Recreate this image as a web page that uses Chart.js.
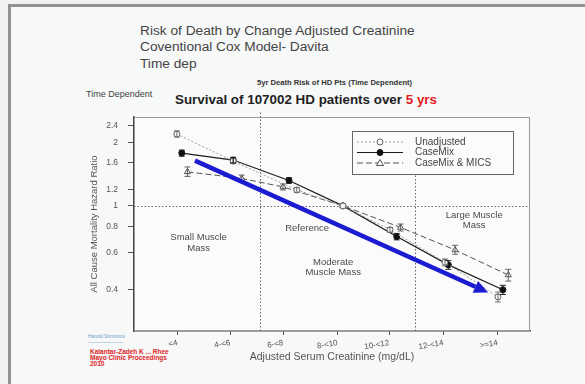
<!DOCTYPE html>
<html>
<head>
<meta charset="utf-8">
<script src="https://cdn.jsdelivr.net/npm/chart.js@4.4.1/dist/chart.umd.min.js"></script>
<style>
  html, body { margin: 0; padding: 0; width: 585px; height: 384px; overflow: hidden; background: #f1f2f2; font-family: "Liberation Sans", Arial, sans-serif; }
  .slide { position: absolute; left: 8px; top: 4px; width: 600px; height: 400px; border-top: 3px solid #909296; border-left: 3px solid #909296; background: #f7f8f8; }
  #c { position: absolute; left: 0; top: 0; }
  .txt { position: absolute; white-space: nowrap; }
  .head { left: 140px; top: 23px; font-size: 13.7px; line-height: 16.3px; color: #444; }
  .sub { left: 257px; top: 78px; font-size: 7.6px; line-height: 10px; font-weight: bold; color: #333; }
  .td { left: 86px; top: 89px; font-size: 9px; line-height: 11px; color: #444; }
  .surv { left: 175px; top: 91px; font-size: 13.4px; line-height: 17px; font-weight: bold; color: #222; }
  .surv span { color: #e3201f; }
  .logo { left: 88px; top: 333px; font-size: 5px; line-height: 6px; color: #6f9cc8; }
  .ref { left: 90px; top: 349px; font-size: 6.5px; line-height: 6px; font-weight: bold; color: #e02424; }
</style>
</head>
<body>
<div class="slide"></div>
<div class="txt head">Risk of Death by Change Adjusted Creatinine<br>Coventional Cox Model- Davita<br>Time dep</div>
<div class="txt sub">5yr Death Risk of HD Pts (Time Dependent)</div>
<div class="txt td">Time Dependent</div>
<div class="txt surv">Survival of 107002 HD patients over <span>5 yrs</span></div>
<div class="txt logo">Harold Simmons<br>———————</div>
<div class="txt ref">Kalantar-Zadeh K ... Rhee<br>Mayo Clinic Proceedings<br>2010</div>
<canvas id="c" width="585" height="384"></canvas>
<script>
// Serum creatinine groups (mg/dL) and their plotted mid positions
const categories = ['<4', '4-<6', '6-<8', '8-<10', '10-<12', '12-<14', '>=14'];
const categoryPos = [2.8, 4.85, 6.9, 9.0, 11.0, 13.1, 15.2];

// Hazard ratio tick values on the log axis
const yTicks = [0.4, 0.6, 0.8, 1, 1.2, 1.6, 2, 2.4];

// Unadjusted model
const unadjX  = [2.78, 4.96, 7.42, 9.21, 11.03, 13.16, 15.21];
const unadjHR = [2.19, 1.63, 1.19, 1.0, 0.77, 0.54, 0.37];
const unadjLo = [2.12, 1.59, 1.16, 1.0, 0.75, 0.52, 0.35];
const unadjHi = [2.27, 1.68, 1.22, 1.0, 0.79, 0.56, 0.39];

// Case-mix adjusted model
const caseX  = [2.97, 4.96, 7.12, 9.21, 11.29, 13.29, 15.40];
const caseHR = [1.78, 1.65, 1.32, 1.0, 0.715, 0.525, 0.40];
const caseLo = [1.72, 1.60, 1.28, 1.0, 0.69, 0.50, 0.38];
const caseHi = [1.84, 1.70, 1.36, 1.0, 0.74, 0.55, 0.42];

// Case-mix + MICS adjusted model
const micsX  = [3.19, 5.29, 6.89, 9.21, 11.44, 13.55, 15.61];
const micsHR = [1.45, 1.35, 1.23, 1.0, 0.79, 0.618, 0.47];
const micsLo = [1.38, 1.30, 1.19, 1.0, 0.76, 0.59, 0.44];
const micsHi = [1.53, 1.40, 1.27, 1.0, 0.82, 0.65, 0.50];

// Muscle mass regions: [text lines, x, hazard ratio]
const regionLabels = [
  [['Small Muscle', 'Mass'], 3.62, 0.707],
  [['Reference'], 7.82, 0.786],
  [['Moderate', 'Muscle Mass'], 8.83, 0.542],
  [['Large Muscle', 'Mass'], 14.29, 0.906]
];

// Trend arrow, start and end in data units
const trendFrom = [3.48, 1.64];
const trendTo   = [14.83, 0.388];

// Category boundaries marked with dotted lines
const boundaries = [6, 12];

const FONT = '"Liberation Sans", Arial, sans-serif';

function pts(xs, ys) { return xs.map((x, i) => ({ x: x, y: ys[i] })); }

const series = [
  { label: 'Unadjusted', data: pts(unadjX, unadjHR), lo: unadjLo, hi: unadjHi,
    borderColor: '#9c9c9c', borderWidth: 1, borderDash: [2, 2],
    pointStyle: 'circle', pointRadius: 3, pointBackgroundColor: '#f8f8f8', pointBorderColor: '#666', pointBorderWidth: 1 },
  { label: 'CaseMix', data: pts(caseX, caseHR), lo: caseLo, hi: caseHi,
    borderColor: '#1e1e1e', borderWidth: 1.2, borderDash: [],
    pointStyle: 'circle', pointRadius: 3, pointBackgroundColor: '#111', pointBorderColor: '#111', pointBorderWidth: 1 },
  { label: 'CaseMix & MICS', data: pts(micsX, micsHR), lo: micsLo, hi: micsHi,
    borderColor: '#555', borderWidth: 1, borderDash: [6, 3],
    pointStyle: 'triangle', pointRadius: 3.5, pointBackgroundColor: '#f8f8f8', pointBorderColor: '#555', pointBorderWidth: 1 }
];

const decorations = {
  id: 'decorations',
  beforeDatasetsDraw(chart) {
    const { ctx, chartArea: a, scales: { x, y } } = chart;
    ctx.save();
    ctx.fillStyle = '#fbfbfb';
    ctx.fillRect(a.left, a.top, a.right - a.left, a.bottom - a.top);
    // plot frame
    ctx.strokeStyle = '#9a9a9a';
    ctx.lineWidth = 1;
    ctx.strokeRect(a.left + 0.5, a.top + 0.5, a.right - a.left - 1, a.bottom - a.top - 1);
    // dotted guides
    ctx.strokeStyle = '#666';
    ctx.setLineDash([1.5, 2]);
    ctx.beginPath();
    const y1 = Math.round(y.getPixelForValue(1)) + 0.5;
    ctx.moveTo(a.left, y1); ctx.lineTo(a.right, y1);
    const bx0 = Math.round(x.getPixelForValue(boundaries[0])) + 0.5;
    ctx.moveTo(bx0, a.bottom); ctx.lineTo(bx0, a.top - 5);
    const bx1 = Math.round(x.getPixelForValue(boundaries[1])) + 0.5;
    ctx.moveTo(bx1, a.bottom); ctx.lineTo(bx1, a.top + 57);
    ctx.stroke();
    ctx.setLineDash([]);
    // region labels
    ctx.fillStyle = '#4a4a4a';
    ctx.font = '9.5px ' + FONT;
    ctx.textAlign = 'center';
    ctx.textBaseline = 'middle';
    regionLabels.forEach(([lines, vx, vy]) => {
      const px = x.getPixelForValue(vx), py = y.getPixelForValue(vy);
      lines.forEach((t, i) => ctx.fillText(t, px, py + i * 10.5));
    });
    ctx.restore();
  },
  afterDatasetsDraw(chart) {
    const { ctx, chartArea: a, scales: { x, y } } = chart;
    ctx.save();
    // error bars
    chart.data.datasets.forEach(ds => {
      ctx.strokeStyle = ds.pointBorderColor;
      ctx.lineWidth = 0.9;
      ds.data.forEach((p, i) => {
        if (ds.lo[i] === ds.hi[i]) return;
        const px = x.getPixelForValue(p.x);
        const pl = y.getPixelForValue(ds.lo[i]), ph = y.getPixelForValue(ds.hi[i]);
        ctx.beginPath();
        ctx.moveTo(px, pl); ctx.lineTo(px, ph);
        ctx.moveTo(px - 3, pl); ctx.lineTo(px + 3, pl);
        ctx.moveTo(px - 3, ph); ctx.lineTo(px + 3, ph);
        ctx.stroke();
      });
    });
    // trend arrow
    const x0 = x.getPixelForValue(trendFrom[0]), y0 = y.getPixelForValue(trendFrom[1]);
    const x1 = x.getPixelForValue(trendTo[0]), y1 = y.getPixelForValue(trendTo[1]);
    const ang = Math.atan2(y1 - y0, x1 - x0);
    const head = 14, half = 6.5;
    const hx = x1 - head * Math.cos(ang), hy = y1 - head * Math.sin(ang);
    ctx.strokeStyle = '#1b1bd2';
    ctx.fillStyle = '#1b1bd2';
    ctx.lineWidth = 4.5;
    ctx.beginPath(); ctx.moveTo(x0, y0); ctx.lineTo(hx, hy); ctx.stroke();
    ctx.beginPath();
    ctx.moveTo(x1, y1);
    ctx.lineTo(hx + half * Math.sin(ang), hy - half * Math.cos(ang));
    ctx.lineTo(hx - half * Math.sin(ang), hy + half * Math.cos(ang));
    ctx.closePath(); ctx.fill();
    // legend box
    const lx = a.right - 178, ly = a.top + 14, lw = 161, lh = 43;
    ctx.fillStyle = '#fbfbfb';
    ctx.fillRect(lx, ly, lw, lh);
    ctx.strokeStyle = '#666';
    ctx.lineWidth = 1;
    ctx.strokeRect(lx + 0.5, ly + 0.5, lw, lh);
    ctx.font = '10px ' + FONT;
    ctx.textAlign = 'left';
    ctx.textBaseline = 'middle';
    chart.data.datasets.forEach((ds, i) => {
      const ry = ly + 11 + i * 10.5;
      ctx.strokeStyle = ds.borderColor;
      ctx.lineWidth = ds.borderWidth;
      ctx.setLineDash(ds.borderDash);
      ctx.beginPath(); ctx.moveTo(lx + 5, ry); ctx.lineTo(lx + 51, ry); ctx.stroke();
      ctx.setLineDash([]);
      ctx.fillStyle = ds.pointBackgroundColor;
      ctx.strokeStyle = ds.pointBorderColor;
      ctx.lineWidth = 1;
      if (ds.pointStyle === 'triangle') {
        ctx.beginPath();
        ctx.moveTo(lx + 28, ry - 3.5); ctx.lineTo(lx + 31.5, ry + 2.5); ctx.lineTo(lx + 24.5, ry + 2.5);
        ctx.closePath(); ctx.fill(); ctx.stroke();
      } else {
        ctx.beginPath(); ctx.arc(lx + 28, ry, 3, 0, Math.PI * 2); ctx.fill(); ctx.stroke();
      }
      ctx.fillStyle = '#444';
      ctx.fillText(ds.label, lx + 63, ry);
    });
    ctx.restore();
  }
};

new Chart(document.getElementById('c'), {
  type: 'line',
  data: { datasets: series },
  options: {
    responsive: false,
    animation: false,
    events: [],
    layout: { padding: { left: 84, top: 117, right: 55, bottom: 18 } },
    plugins: { legend: { display: false }, tooltip: { enabled: false } },
    scales: {
      x: {
        type: 'linear', min: 1.12, max: 16.45,
        afterBuildTicks: s => { s.ticks = categoryPos.map(v => ({ value: v })); },
        afterFit: s => { s.height = 35; },
        ticks: { autoSkip: false, minRotation: 10, maxRotation: 10, padding: 3,
          font: { family: FONT, size: 8 }, color: '#555',
          callback: (v, i) => categories[i] },
        grid: { drawOnChartArea: false, tickLength: 4, color: '#555' },
        border: { color: '#444', width: 1.5 },
        title: { display: true, text: 'Adjusted Serum Creatinine (mg/dL)', padding: 3,
          font: { family: FONT, size: 10.5 }, color: '#555' }
      },
      y: {
        type: 'logarithmic', min: 0.255, max: 2.64,
        afterBuildTicks: s => { s.ticks = yTicks.map(v => ({ value: v })); },
        afterFit: s => { s.width = 50; },
        ticks: { autoSkip: false, padding: 10, font: { family: FONT, size: 8.5 }, color: '#555',
          callback: v => String(v) },
        grid: { drawOnChartArea: false, tickLength: 6, color: '#555' },
        border: { color: '#444', width: 1.5 },
        title: { display: true, text: 'All Cause Mortality Hazard Ratio', padding: 5,
          font: { family: FONT, size: 9.5 }, color: '#555' }
      }
    }
  },
  plugins: [decorations]
});
</script>
</body>
</html>
